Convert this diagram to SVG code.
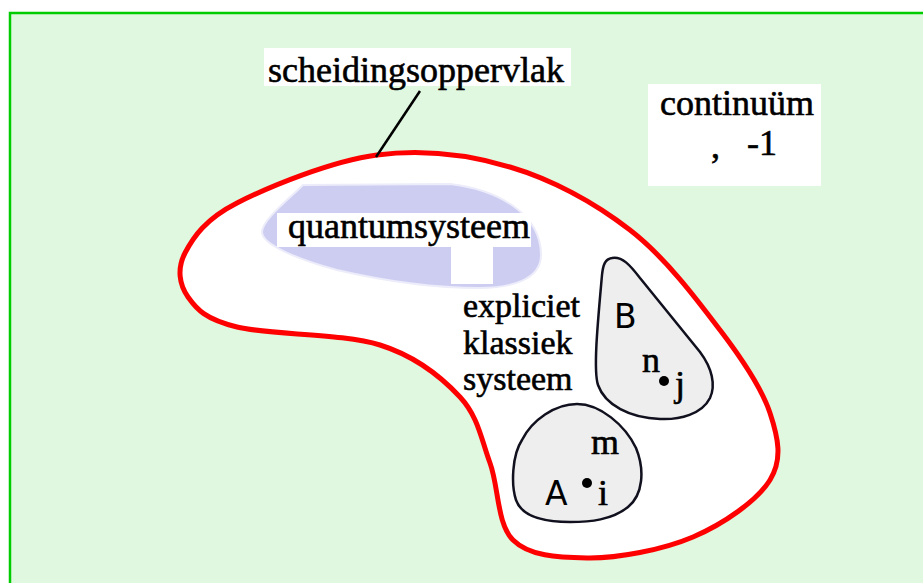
<svg xmlns="http://www.w3.org/2000/svg" width="923" height="583" viewBox="0 0 923 583">
  <style>
    .serif { font-family: "Liberation Serif", "Times New Roman", serif; font-size: 36px; fill: #000; stroke: #000; stroke-width: 0.6; }
    .caption { font-size: 34px; }
    .sans { font-family: "DejaVu Sans", "Liberation Sans", sans-serif; font-size: 33px; fill: #000; }
    .label-bg { fill: #ffffff; }
    .sub { fill: #eeeeee; stroke: #10101e; stroke-width: 2.5; }
    .dot { fill: #000; }
  </style>

  <!-- page background and frame -->
  <rect x="0" y="0" width="923" height="583" fill="#ffffff"/>
  <rect x="10" y="13" width="960" height="620" fill="#dff8df" stroke="#00cc00" stroke-width="2.5"/>

  <!-- boundary surface enclosing the systems -->
  <g id="scheidingsoppervlak-surface">
    <path d="M377,155 C422.5,149 468,154.5 510,167 C552,179.5 595,203 630,230 C665,257 697,299.5 720,330 C743.3,360.5 761.7,388 770,413 C778.3,438 782.8,459.3 770,480 C757.2,500.7 723.5,524 693,537 C662.5,550 617,558.5 587,558 C557,557.5 529,556 513,540 C496.8,524 498.8,486.8 490,463 C481.2,439.2 478.3,416.7 460,397 C441.7,377.3 417.2,356.7 380,345 C342.8,333.3 269,335 237,327 C205,319 196.7,309.3 188,297 C179.3,284.7 176.8,268.7 185,253 C193.2,237.3 205,219.3 237,203 C269,186.7 331.5,161 377,155 Z" fill="#ffffff" stroke="#ff0000" stroke-width="5"/>
  </g>

  <!-- quantum system -->
  <g id="quantumsysteem">
    <path d="M303,185 L450,184 C500,190 541,215 541,255 C541,280 510,288 480,288 C430,288 380,280 337,270 C300,260 262,245 262,232 C262,220 290,198 303,185 Z" fill="#cdcdf2" stroke="#ececfa" stroke-width="2"/>
    <rect class="label-bg" x="277" y="213" width="254" height="34"/>
    <rect class="label-bg" x="451" y="246" width="42" height="38"/>
    <text class="serif" x="288" y="238">quantumsysteem</text>
  </g>

  <!-- label of the boundary surface -->
  <g id="scheidingsoppervlak-label">
    <rect class="label-bg" x="264" y="48" width="307" height="38"/>
    <text class="serif" x="268" y="82">scheidingsoppervlak</text>
  </g>

  <!-- continuum label -->
  <g id="continuum">
    <rect class="label-bg" x="648" y="84" width="173" height="102"/>
    <text class="serif" x="660" y="115">continuüm</text>
    <text class="serif" x="711" y="158">,</text>
    <text class="serif" x="747" y="155" font-size="27">-1</text>
  </g>

  <!-- explicit classical system caption -->
  <g id="expliciet-klassiek-systeem">
    <text class="serif caption" x="463" y="317">expliciet</text>
    <text class="serif caption" x="463" y="354">klassiek</text>
    <text class="serif caption" x="463" y="390">systeem</text>
  </g>

  <!-- subsystem B -->
  <g id="subsystem-B">
    <path class="sub" d="M612,258 C622,256 630,265 640,278 L700,352 C712,368 716,385 710,398 C702,414 680,420 660,419 C630,418 605,405 598,385 C593,370 598,320 602,275 C603,265 605,259 612,258 Z"/>
    <text class="sans" x="614" y="328">B</text>
    <text class="serif" x="642" y="372">n</text>
    <circle class="dot" cx="664" cy="381" r="5"/>
    <text class="serif" x="675" y="396">j</text>
  </g>

  <!-- subsystem A -->
  <g id="subsystem-A">
    <path class="sub" d="M577,404 C600,404 625,425 636,448 C645,470 643,495 628,507 C612,520 590,522 570,522 C545,522 522,517 516,500 C511,485 512,455 522,440 C532,420 555,404 577,404 Z"/>
    <text class="serif" x="591" y="454">m</text>
    <text class="sans" x="545" y="505">A</text>
    <circle class="dot" cx="587" cy="483" r="5"/>
    <text class="serif" x="598" y="505">i</text>
  </g>

  <!-- leader from label to boundary -->
  <g id="connectors">
    <line x1="420" y1="91" x2="376" y2="157" stroke="#000" stroke-width="2.5"/>
  </g>
</svg>
